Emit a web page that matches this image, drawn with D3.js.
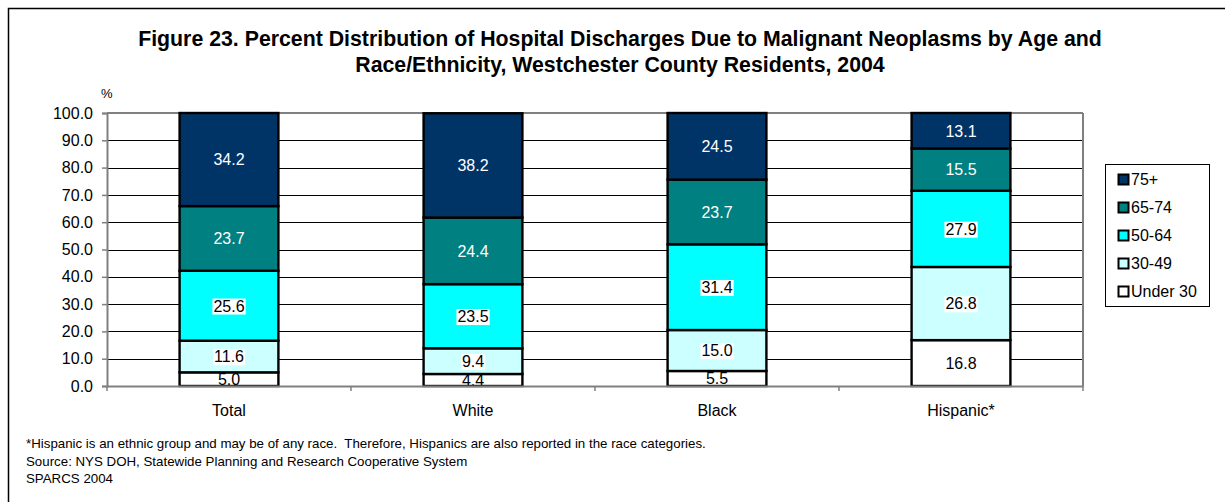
<!DOCTYPE html>
<html>
<head>
<meta charset="utf-8">
<script src="https://cdn.jsdelivr.net/npm/d3@7"></script>
<style>
  body { margin: 0; background: #fff; }
  svg { display: block; font-family: "Liberation Sans", Arial, sans-serif; }
</style>
</head>
<body>
<div id="chart"></div>
<script>
// data
const categories = ['Total', 'White', 'Black', 'Hispanic*'];
const ageGroups = ['Under 30', '30-49', '50-64', '65-74', '75+'];
const under30 = [5.0, 4.4, 5.5, 16.8];
const age3049 = [11.6, 9.4, 15.0, 26.8];
const age5064 = [25.6, 23.5, 31.4, 27.9];
const age6574 = [23.7, 24.4, 23.7, 15.5];
const age75 = [34.2, 38.2, 24.5, 13.1];
const yTicks = [0, 10, 20, 30, 40, 50, 60, 70, 80, 90, 100];

const colors = ['#FFFFFF', '#CCFFFF', '#00FFFF', '#008080', '#003366'];
const labelColors = ['#000', '#000', '#000', '#fff', '#fff'];
const labelBg = [false, true, true, false, false];

const FONT = '"Liberation Sans", Arial, sans-serif';

const series = [under30, age3049, age5064, age6574, age75];
const rows = categories.map((c, i) => {
  const r = { cat: c };
  ageGroups.forEach((g, k) => r[g] = series[k][i]);
  return r;
});

const W = 1225, H = 502;
const m = { left: 107, right: 1083, top: 113, bottom: 386 };

const svg = d3.select('#chart').append('svg')
  .attr('width', W).attr('height', H)
  .attr('font-family', FONT);

// outer frame
svg.append('rect')
  .attr('x', 8.5).attr('y', 8.5)
  .attr('width', 1240).attr('height', 520)
  .attr('fill', 'none').attr('stroke', '#000').attr('stroke-width', 1.5);

// title
const title = svg.append('text')
  .attr('text-anchor', 'middle')
  .attr('font-size', 21.3).attr('font-weight', 'bold');
title.append('tspan').attr('x', 620).attr('y', 45.5)
  .text('Figure 23. Percent Distribution of Hospital Discharges Due to Malignant Neoplasms by Age and');
title.append('tspan').attr('x', 620).attr('y', 72)
  .text('Race/Ethnicity, Westchester County Residents, 2004');

const x = d3.scaleBand().domain(categories).range([m.left, m.right]).paddingInner(0).paddingOuter(0);
const y = d3.scaleLinear().domain([0, 100]).range([m.bottom, m.top]);

// gridlines
svg.append('g').selectAll('line')
  .data(yTicks.slice(1, -1))
  .enter().append('line')
  .attr('x1', m.left).attr('x2', m.right)
  .attr('y1', d => Math.round(y(d)) + 0.5).attr('y2', d => Math.round(y(d)) + 0.5)
  .attr('stroke', '#000').attr('stroke-width', 1);

// plot border top / right
svg.append('line')
  .attr('x1', m.left).attr('x2', m.right)
  .attr('y1', m.top).attr('y2', m.top)
  .attr('stroke', '#808080').attr('stroke-width', 2);
svg.append('line')
  .attr('x1', m.right).attr('x2', m.right)
  .attr('y1', m.top).attr('y2', m.bottom)
  .attr('stroke', '#808080').attr('stroke-width', 2);

// y axis
const yAxis = svg.append('g')
  .attr('transform', `translate(${m.left},0)`)
  .call(d3.axisLeft(y).tickValues(yTicks).tickFormat(d3.format('.1f')).tickSize(5).tickPadding(9));
yAxis.select('.domain').attr('stroke', '#808080').attr('stroke-width', 2);
yAxis.selectAll('.tick line').attr('stroke', '#808080').attr('stroke-width', 1.5);
yAxis.selectAll('.tick text').attr('font-size', 16).attr('fill', '#000')
  .attr('font-family', FONT);

svg.append('text').attr('x', 101).attr('y', 97.5)
  .attr('font-size', 13).text('%');

// stacked bars
const stack = d3.stack().keys(ageGroups)(rows);
const bw = x.bandwidth() * 0.405;

const layers = svg.append('g').selectAll('g')
  .data(stack).enter().append('g');

layers.selectAll('rect')
  .data((d, k) => d.map(v => ({ v, k })))
  .enter().append('rect')
  .attr('x', d => x(d.v.data.cat) + (x.bandwidth() - bw) / 2)
  .attr('width', bw)
  .attr('y', d => y(Math.min(d.v[1], 100)))
  .attr('height', d => y(d.v[0]) - y(Math.min(d.v[1], 100)))
  .attr('fill', d => colors[d.k])
  .attr('stroke', '#000').attr('stroke-width', 2.4);

// value labels
const labels = svg.append('g');
stack.forEach((layer, k) => {
  layer.forEach(v => {
    const cx = x(v.data.cat) + x.bandwidth() / 2;
    const cy = (y(v[0]) + y(Math.min(v[1], 100))) / 2;
    const txt = d3.format('.1f')(v.data[ageGroups[k]]);
    const g = labels.append('g');
    const t = g.append('text')
      .attr('x', cx).attr('y', cy + 5.8)
      .attr('text-anchor', 'middle')
      .attr('font-size', 16)
      .attr('fill', labelColors[k])
      .text(txt);
    if (labelBg[k]) {
      const bb = t.node().getBBox();
      g.insert('rect', 'text')
        .attr('x', bb.x - 1).attr('y', bb.y + 1)
        .attr('width', bb.width + 2).attr('height', bb.height - 1)
        .attr('fill', '#fff');
    }
  });
});

// x axis
const xAxis = svg.append('g')
  .attr('transform', `translate(0,${m.bottom})`)
  .call(d3.axisBottom(x).tickSize(0).tickPadding(19));
xAxis.select('.domain').attr('stroke', '#808080').attr('stroke-width', 2);
xAxis.selectAll('.tick text').attr('font-size', 16).attr('fill', '#000')
  .attr('font-family', FONT);
// tick marks between categories
svg.append('g').selectAll('line')
  .data(categories.concat(['end']))
  .enter().append('line')
  .attr('x1', (d, i) => i < categories.length ? x(d) : m.right)
  .attr('x2', (d, i) => i < categories.length ? x(d) : m.right)
  .attr('y1', m.bottom).attr('y2', m.bottom + 5)
  .attr('stroke', '#808080').attr('stroke-width', 1.5);

// legend
const lg = svg.append('g');
lg.append('rect')
  .attr('x', 1105.5).attr('y', 164.5).attr('width', 104).attr('height', 142)
  .attr('fill', '#fff').attr('stroke', '#000').attr('stroke-width', 1);
const legendOrder = ageGroups.slice().reverse();
legendOrder.forEach((g, i) => {
  const k = ageGroups.indexOf(g);
  const cy = 179 + i * 28;
  lg.append('rect')
    .attr('x', 1118.5).attr('y', cy - 4.5).attr('width', 10).attr('height', 10)
    .attr('fill', colors[k]).attr('stroke', '#000').attr('stroke-width', 2);
  lg.append('text')
    .attr('x', 1131).attr('y', cy + 6)
    .attr('font-size', 16).text(g);
});

// footnotes
const notes = [
  '*Hispanic is an ethnic group and may be of any race.  Therefore, Hispanics are also reported in the race categories.',
  'Source: NYS DOH, Statewide Planning and Research Cooperative System',
  'SPARCS 2004'
];
svg.append('g').selectAll('text')
  .data(notes).enter().append('text')
  .attr('x', 26).attr('y', (d, i) => 448 + i * 17.7)
  .attr('font-size', 13.3).attr('xml:space', 'preserve')
  .style('white-space', 'pre')
  .text(d => d);
</script>
</body>
</html>
